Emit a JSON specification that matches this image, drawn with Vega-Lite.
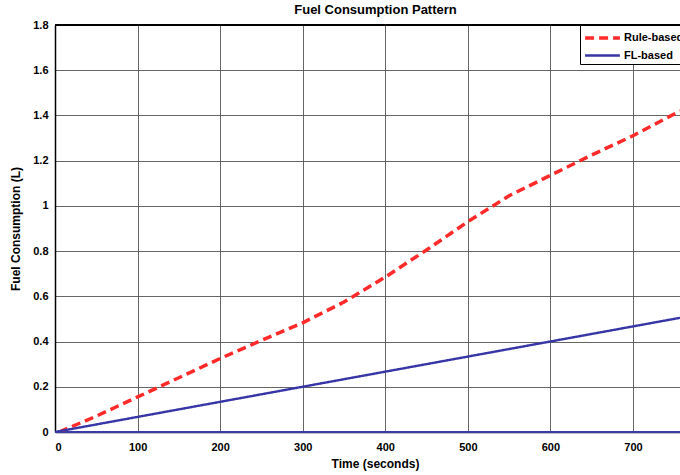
{
  "$schema": "https://vega.github.io/schema/vega-lite/v6.json",
  "autosize": {"type": "none"},
  "padding": {"left": 55, "top": 25, "right": 0, "bottom": 43},
  "width": 625,
  "height": 407,
  "background": "white",
  "title": {
    "text": "Fuel Consumption Pattern",
    "font": "Liberation Sans Narrow, Liberation Sans, Arial",
    "fontSize": 13,
    "fontWeight": "bold",
    "color": "#000000",
    "anchor": "middle",
    "dx": 8,
    "offset": 2
  },
  "config": {
    "view": {"stroke": null},
    "font": "Liberation Sans",
    "axis": {
      "labelFont": "Liberation Sans",
      "labelFontSize": 11,
      "labelFontWeight": "bold",
      "labelColor": "#000000",
      "titleFont": "Liberation Sans Narrow, Liberation Sans, Arial",
      "titleFontSize": 12,
      "titleFontWeight": "bold",
      "titleColor": "#000000",
      "domainColor": "#000000",
      "domainWidth": 1.5,
      "gridColor": "#555555",
      "gridWidth": 1,
      "gridOpacity": 0.9,
      "ticks": false
    }
  },
  "data": {
    "values": [
      {"series": "Rule-based", "time": 5, "fuel": 0},
      {"series": "Rule-based", "time": 50, "fuel": 0.07},
      {"series": "Rule-based", "time": 100, "fuel": 0.155},
      {"series": "Rule-based", "time": 150, "fuel": 0.24},
      {"series": "Rule-based", "time": 200, "fuel": 0.325},
      {"series": "Rule-based", "time": 250, "fuel": 0.405},
      {"series": "Rule-based", "time": 300, "fuel": 0.483},
      {"series": "Rule-based", "time": 350, "fuel": 0.575},
      {"series": "Rule-based", "time": 400, "fuel": 0.685},
      {"series": "Rule-based", "time": 450, "fuel": 0.805},
      {"series": "Rule-based", "time": 500, "fuel": 0.93},
      {"series": "Rule-based", "time": 550, "fuel": 1.045},
      {"series": "Rule-based", "time": 600, "fuel": 1.135},
      {"series": "Rule-based", "time": 650, "fuel": 1.225},
      {"series": "Rule-based", "time": 700, "fuel": 1.31},
      {"series": "Rule-based", "time": 757, "fuel": 1.42},
      {"series": "FL-based", "time": 0, "fuel": 0},
      {"series": "FL-based", "time": 757, "fuel": 0.505}
    ]
  },
  "layer": [
    {
      "mark": {"type": "rule", "color": "#3a3aa8", "strokeWidth": 2},
      "encoding": {"y": {"datum": 0}}
    },
    {
      "mark": {"type": "line", "clip": true},
      "encoding": {
        "x": {
          "field": "time",
          "type": "quantitative",
          "scale": {"domain": [0, 757], "nice": false, "zero": false},
          "axis": {
            "title": "Time (seconds)",
            "values": [0, 100, 200, 300, 400, 500, 600, 700],
            "grid": true,
            "labelPadding": 9,
            "titlePadding": 6,
            "titleX": 320
          }
        },
        "y": {
          "field": "fuel",
          "type": "quantitative",
          "scale": {"domain": [0, 1.8], "nice": false},
          "axis": {
            "title": "Fuel Consumption (L)",
            "values": [0, 0.2, 0.4, 0.6, 0.8, 1, 1.2, 1.4, 1.6, 1.8],
            "format": "~g",
            "grid": true,
            "labelPadding": 7,
            "titlePadding": 10
          }
        },
        "color": {
          "field": "series",
          "type": "nominal",
          "sort": ["Rule-based", "FL-based"],
          "scale": {"domain": ["Rule-based", "FL-based"], "range": ["#ff2a2a", "#3636a6"]},
          "legend": {
            "title": null,
            "orient": "none",
            "legendX": 525,
            "legendY": 0,
            "fillColor": "white",
            "strokeColor": "#000000",
            "padding": 3,
            "symbolType": "M-1,0H3.4",
            "symbolSize": 250,
            "symbolStrokeWidth": 3.5,
            "labelFont": "Liberation Sans Narrow, Liberation Sans, Arial",
            "labelFontSize": 11,
            "labelFontWeight": "bold",
            "labelColor": "#000000",
            "rowPadding": 1,
            "labelOffset": 21
          }
        },
        "strokeDash": {
          "field": "series",
          "type": "nominal",
          "sort": ["Rule-based", "FL-based"],
          "scale": {"domain": ["Rule-based", "FL-based"], "range": [[9, 5], [1, 0]]},
          "legend": {
            "title": null,
            "orient": "none",
            "legendX": 525,
            "legendY": 0,
            "fillColor": "white",
            "strokeColor": "#000000",
            "padding": 3,
            "symbolType": "M-1,0H3.4",
            "symbolSize": 250,
            "symbolStrokeWidth": 3.5,
            "labelFont": "Liberation Sans Narrow, Liberation Sans, Arial",
            "labelFontSize": 11,
            "labelFontWeight": "bold",
            "labelColor": "#000000",
            "rowPadding": 1,
            "labelOffset": 21
          }
        },
        "strokeWidth": {
          "field": "series",
          "type": "nominal",
          "scale": {"domain": ["Rule-based", "FL-based"], "range": [3.5, 2.4]},
          "legend": null
        }
      }
    },
    {
      "mark": {"type": "rule", "color": "#000000", "strokeWidth": 1.5},
      "encoding": {"y": {"datum": 1.8}}
    }
  ]
}
